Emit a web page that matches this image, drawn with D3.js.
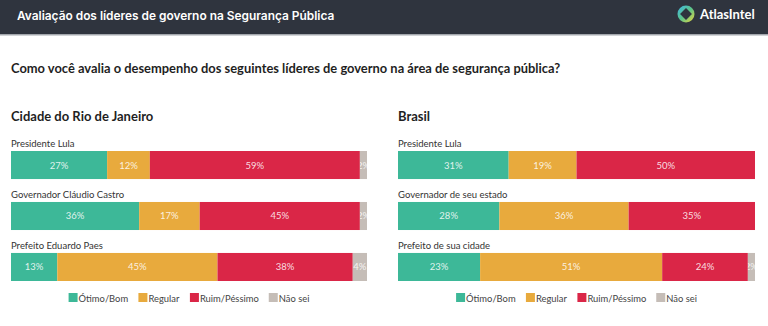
<!DOCTYPE html>
<html>
<head>
<meta charset="utf-8">
<script src="https://cdn.jsdelivr.net/npm/d3@7"></script>
<style>
  html, body { margin: 0; padding: 0; background: #fff; }
  svg { display: block; }
</style>
</head>
<body>
<div id="chart"></div>
<script>
const width = 768, height = 326;

// answer options, one colour each
const categories = ["Ótimo/Bom", "Regular", "Ruim/Péssimo", "Não sei"];
const colors = ["#3db898", "#e8aa3d", "#da2647", "#c5bdb7"];

// Cidade do Rio de Janeiro
const rioLeaders = ["Presidente Lula", "Governador Cláudio Castro", "Prefeito Eduardo Paes"];
const rioValues = [
  [27, 12, 59, 2],
  [36, 17, 45, 2],
  [13, 45, 38, 4]
];

// Brasil
const brLeaders = ["Presidente Lula", "Governador de seu estado", "Prefeito de sua cidade"];
const brValues = [
  [31, 19, 50, 0],
  [28.4, 36.2, 35.4, 0],
  [23, 51, 24, 2]
];

const fmt = d => d3.format(".0f")(d) + "%";

const svg = d3.select("#chart").append("svg")
  .attr("width", width)
  .attr("height", height)
  .style("font-family", "Lato, 'Open Sans', sans-serif");

// header band
svg.append("rect").attr("width", width).attr("height", 34).attr("fill", "#2f343e");
svg.append("rect").attr("y", 34).attr("width", width).attr("height", 1.5).attr("fill", "#a3a7ad");
svg.append("text")
  .attr("x", 17).attr("y", 20)
  .attr("fill", "#fff")
  .style("font-family", "Inter, sans-serif")
  .style("font-weight", 600)
  .style("font-size", "11.9px")
  .text("Avaliação dos líderes de governo na Segurança Pública");

// logo
const defs = svg.append("defs");
const lg = defs.append("linearGradient").attr("id", "logoGrad")
  .attr("x1", "0").attr("y1", "0").attr("x2", "1").attr("y2", "1");
lg.append("stop").attr("offset", "0%").attr("stop-color", "#3fb8e8");
lg.append("stop").attr("offset", "50%").attr("stop-color", "#5cc489");
lg.append("stop").attr("offset", "100%").attr("stop-color", "#f2d73a");
const logo = svg.append("g").attr("transform", "translate(686,14)");
logo.append("circle").attr("r", 8.5).attr("fill", "url(#logoGrad)");
logo.append("rect").attr("x", -4.2).attr("y", -4.2).attr("width", 8.4).attr("height", 8.4)
  .attr("transform", "rotate(45)").attr("fill", "#2f343e");
svg.append("text")
  .attr("x", 700).attr("y", 19)
  .attr("fill", "#fff")
  .style("font-size", "13px")
  .style("font-weight", 700)
  .text("AtlasIntel");

// question
svg.append("text")
  .attr("x", 11).attr("y", 73)
  .attr("fill", "#1f1f1f")
  .style("font-weight", 700)
  .style("font-size", "12.9px")
  .text("Como você avalia o desempenho dos seguintes líderes de governo na área de segurança pública?");

function panel(title, leaders, values, x0, x1, id) {
  const g = svg.append("g");

  g.append("text")
    .attr("x", x0).attr("y", 121)
    .attr("fill", "#1f1f1f")
    .style("font-weight", 700)
    .style("font-size", "13px")
    .text(title);

  const x = d3.scaleLinear().domain([0, 100]).range([x0, x1]);
  const y = d3.scaleBand().domain(leaders).range([151, 281]).paddingInner(0.45).paddingOuter(0);
  const bh = y.bandwidth();

  const rows = g.selectAll("g.row")
    .data(leaders.map((name, i) => ({ name, vals: values[i] })))
    .join("g")
    .attr("class", "row")
    .attr("transform", d => `translate(0,${y(d.name)})`);

  rows.append("text")
    .attr("x", x0).attr("y", -4)
    .attr("fill", "#333")
    .style("font-size", "9.5px")
    .text(d => d.name);

  const segs = rows.selectAll("g.seg")
    .data((d, ri) => {
      let acc = 0;
      return d.vals.map((v, i) => {
        const s = { v, i, start: acc, uid: `${id}-${ri}-${i}` };
        acc += v;
        return s;
      }).filter(s => s.v > 0);
    })
    .join("g")
    .attr("class", "seg");

  segs.append("clipPath")
    .attr("id", d => "clip-" + d.uid)
    .append("rect")
    .attr("x", d => x(d.start))
    .attr("width", d => x(d.start + d.v) - x(d.start))
    .attr("height", bh);

  segs.append("rect")
    .attr("x", d => x(d.start))
    .attr("width", d => x(d.start + d.v) - x(d.start))
    .attr("height", bh)
    .attr("fill", d => colors[d.i]);

  segs.append("text")
    .attr("clip-path", d => `url(#clip-${d.uid})`)
    .attr("x", d => (x(d.start) + x(d.start + d.v)) / 2)
    .attr("y", bh / 2 + 3.5)
    .attr("text-anchor", "middle")
    .attr("fill", "rgba(255,255,255,0.85)")
    .style("font-size", "9.5px")
    .text(d => fmt(d.v));

  // legend, centred under the bars
  const leg = g.append("g");
  const items = leg.selectAll("g")
    .data(categories)
    .join("g");
  items.append("rect")
    .attr("width", 9).attr("height", 9)
    .attr("y", -8)
    .attr("fill", (d, i) => colors[i]);
  items.append("text")
    .attr("x", 10).attr("y", 0.5)
    .attr("fill", "#444")
    .style("font-size", "9.4px")
    .text(d => d);
  let off = 0;
  items.each(function () {
    d3.select(this).attr("transform", `translate(${off},0)`);
    off += this.getBBox().width + 10;
  });
  off -= 10;
  leg.attr("transform", `translate(${(x0 + x1) / 2 - off / 2},301)`);
}

panel("Cidade do Rio de Janeiro", rioLeaders, rioValues, 11, 367, "rio");
panel("Brasil", brLeaders, brValues, 398, 755, "br");
</script>
</body>
</html>
